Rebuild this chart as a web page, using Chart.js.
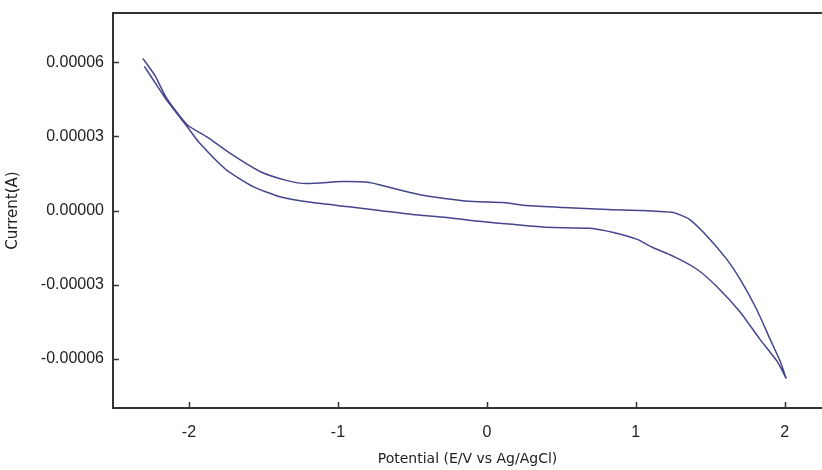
<!DOCTYPE html>
<html>
<head>
<meta charset="utf-8">
<script src="https://cdn.jsdelivr.net/npm/chart.js@4"></script>
<style>
  html, body { margin: 0; padding: 0; background: #fff; }
  #wrap { width: 822px; height: 470px; }
</style>
</head>
<body>
<div id="wrap"><canvas id="cv"></canvas></div>
<script>
// upper branch, -2.3 V -> 2.0 V
const potentialUp = [-2.31, -2.23, -2.15, -2.01, -1.88, -1.71, -1.52, -1.34, -1.21, -0.97, -0.79, -0.65, -0.45, -0.27, -0.09, 0.11, 0.27, 0.51, 0.81, 1.05, 1.25, 1.36, 1.48, 1.61, 1.70, 1.81, 1.90, 1.97, 2.01];
const currentUp = [6.16e-5, 5.48e-5, 4.55e-5, 3.46e-5, 2.98e-5, 2.26e-5, 1.57e-5, 1.21e-5, 1.09e-5, 1.17e-5, 1.13e-5, 0.93e-5, 0.64e-5, 0.48e-5, 0.36e-5, 0.32e-5, 0.20e-5, 0.12e-5, 0.04e-5, 0, -0.08e-5, -0.36e-5, -1.05e-5, -1.97e-5, -2.78e-5, -3.99e-5, -5.19e-5, -6.12e-5, -6.81e-5];
// lower branch, 2.0 V -> -2.3 V
const potentialDown = [2.01, 1.95, 1.83, 1.70, 1.54, 1.41, 1.25, 1.11, 1.01, 0.85, 0.69, 0.40, 0.17, -0.05, -0.27, -0.50, -0.72, -0.94, -1.17, -1.39, -1.57, -1.75, -1.93, -2.01, -2.15, -2.26, -2.30];
const currentDown = [-6.81e-5, -6.12e-5, -5.19e-5, -4.11e-5, -3.06e-5, -2.38e-5, -1.85e-5, -1.49e-5, -1.17e-5, -0.89e-5, -0.72e-5, -0.68e-5, -0.56e-5, -0.44e-5, -0.28e-5, -0.16e-5, 0, 0.16e-5, 0.32e-5, 0.56e-5, 0.97e-5, 1.65e-5, 2.74e-5, 3.38e-5, 4.47e-5, 5.48e-5, 5.84e-5];

const xTicks = [-2, -1, 0, 1, 2];
const xTickLabels = ['-2', '-1', '0', '1', '2'];
const yTicks = [0.00006, 0.00003, 0, -0.00003, -0.00006];
const yTickLabels = ['0.00006', '0.00003', '0.00000', '-0.00003', '-0.00006'];

const points = [];
potentialUp.forEach((x, i) => points.push({ x: x, y: currentUp[i] }));
potentialDown.forEach((x, i) => points.push({ x: x, y: currentDown[i] }));

const lineColor = '#45458c';
const axisColor = '#333';

// ticks point inward, plus top frame line
const frame = {
  id: 'frame',
  afterDraw(chart) {
    const ctx = chart.ctx;
    const a = chart.chartArea;
    const xs = chart.scales.x, ys = chart.scales.y;
    ctx.save();
    ctx.strokeStyle = axisColor;
    ctx.lineWidth = 2;
    ctx.beginPath();
    ctx.moveTo(a.left, a.top);
    ctx.lineTo(a.right, a.top);
    ctx.stroke();
    ctx.lineWidth = 1.5;
    ctx.beginPath();
    xTicks.forEach(v => {
      const px = Math.round(xs.getPixelForValue(v)) + 0.5;
      ctx.moveTo(px, a.bottom);
      ctx.lineTo(px, a.bottom - 6);
    });
    yTicks.forEach(v => {
      const py = Math.round(ys.getPixelForValue(v)) + 0.5;
      ctx.moveTo(a.left, py);
      ctx.lineTo(a.left + 6, py);
    });
    ctx.stroke();
    ctx.restore();
  }
};

new Chart(document.getElementById('cv'), {
  type: 'scatter',
  data: {
    datasets: [{
      data: points,
      showLine: true,
      borderColor: lineColor,
      borderWidth: 1.5,
      pointRadius: 0,
      tension: 0.2,
      fill: false
    }]
  },
  options: {
    animation: false,
    responsive: true,
    maintainAspectRatio: false,
    layout: { padding: { top: 13, right: 0, left: 0, bottom: 0 } },
    plugins: { legend: { display: false }, tooltip: { enabled: false } },
    scales: {
      x: {
        type: 'linear',
        min: -2.51,
        max: 2.25,
        afterFit: s => { s.height = 62; s.paddingLeft = 0; s.paddingRight = 0; },
        afterBuildTicks: s => { s.ticks = xTicks.map(v => ({ value: v })); },
        grid: { display: false, drawTicks: false },
        border: { display: true, color: axisColor, width: 2 },
        ticks: {
          padding: 15,
          color: '#222',
          font: { family: 'Liberation Sans', size: 16 },
          callback: (v) => xTickLabels[xTicks.indexOf(v)]
        },
        title: {
          display: true,
          text: 'Potential (E/V vs Ag/AgCl)',
          color: '#222',
          font: { family: 'DejaVu Sans', size: 14 },
          padding: { top: 0, bottom: 2 }
        }
      },
      y: {
        type: 'linear',
        min: -0.00008,
        max: 0.00008,
        afterFit: s => { s.width = 113; s.paddingTop = 0; s.paddingBottom = 0; },
        afterBuildTicks: s => { s.ticks = yTicks.map(v => ({ value: v })); },
        grid: { display: false, drawTicks: false },
        border: { display: true, color: axisColor, width: 2 },
        ticks: {
          padding: 9,
          color: '#222',
          font: { family: 'Liberation Sans', size: 16 },
          callback: (v) => yTickLabels[yTicks.indexOf(v)]
        },
        title: {
          display: true,
          text: 'Current(A)',
          color: '#222',
          font: { family: 'DejaVu Sans', size: 15 },
          padding: { top: 4, bottom: 0 }
        }
      }
    }
  },
  plugins: [frame]
});
</script>
</body>
</html>
